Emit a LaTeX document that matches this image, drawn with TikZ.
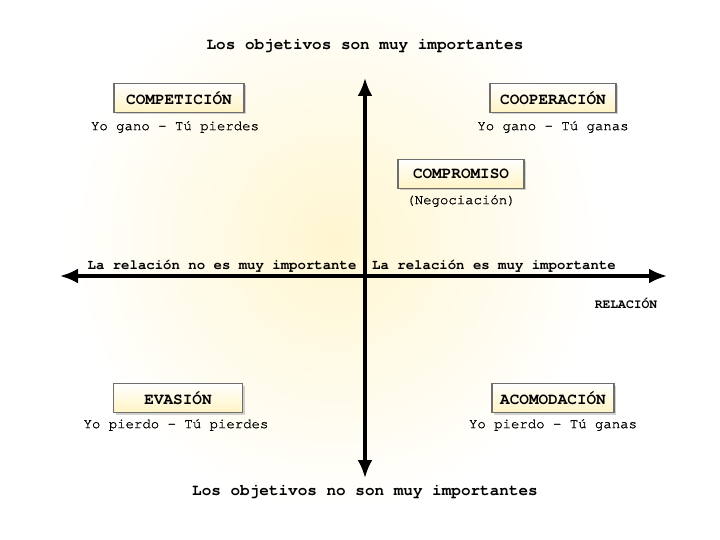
\documentclass[tikz,border=0pt]{standalone}
\usepackage{fontspec}
\setmainfont{TeX Gyre Cursor}
\newfontfamily\lemafont[FakeBold=1.2]{TeX Gyre Cursor}
\usetikzlibrary{arrows.meta,shadows}
\definecolor{glow}{RGB}{255,246,208}
\definecolor{boxbottom}{RGB}{255,244,196}
\definecolor{boxline}{RGB}{110,110,110}
\tikzset{
  estilo/.style={draw=boxline, line width=1.2pt, top color=white, bottom color=boxbottom,
    minimum width=126pt, minimum height=29pt, font=\bfseries\fontsize{16}{16}\selectfont,
    drop shadow={shadow xshift=2pt, shadow yshift=-2pt, opacity=0.35}},
  lema/.style={font=\lemafont\fontsize{14}{14}\selectfont},
  eje/.style={line width=3.2pt, -{Latex[length=18pt,width=15pt]}}
}
\begin{document}
\begin{tikzpicture}[x=1pt,y=1pt,yscale=-1,xscale=1]
\useasboundingbox (0,0) rectangle (720,540);
\fill[white] (0,0) rectangle (720,540);

% fondo
\shade[inner color=glow, outer color=white] (335,240) circle (270);

% Ejes
\coordinate (arriba) at (365,78);
\coordinate (abajo) at (365,478);
\coordinate (izq) at (60,276);
\coordinate (der) at (667,276);
\coordinate (centro) at (365,276);
\draw [eje] (centro) -- (arriba);
\draw [eje] (centro) -- (abajo);
\draw [eje] (centro) -- (izq);
\draw [eje] (centro) -- (der);

% Text Node
\node (tit) [font=\bfseries\fontsize{16}{16}\selectfont] at (365,46) {Los objetivos son muy importantes};
% Text Node
\node (pie) [font=\bfseries\fontsize{16}{16}\selectfont] at (365,492) {Los objetivos no son muy importantes};

% Estilos
\node (competicion) [estilo, minimum width=130pt] at (179,98) {COMPETICIÓN};
\node (competicionT) [lema] at (175,127) {Yo gano - Tú pierdes};

\node (cooperacion) [estilo] at (553,98) {COOPERACIÓN};
\node (cooperacionT) [lema] at (553,127) {Yo gano - Tú ganas};

\node (compromiso) [estilo] at (461,174) {COMPROMISO};
\node (compromisoT) [lema] at (461,201) {(Negociación)};

\node (evasion) [estilo, minimum width=129pt] at (178,398) {EVASIÓN};
\node (evasionT) [lema] at (176,425) {Yo pierdo - Tú pierdes};

\node (acomodacion) [estilo, minimum width=122pt] at (553,398) {ACOMODACIÓN};
\node (acomodacionT) [lema] at (553,425) {Yo pierdo - Tú ganas};

% Text Node
\node (relno) [font=\bfseries\fontsize{14}{14}\selectfont] at (222,266) {La relación no es muy importante};
% Text Node
\node (relsi) [font=\bfseries\fontsize{14}{14}\selectfont] at (494,266) {La relación es muy importante};
% Text Node
\node (relacion) [font=\bfseries\fontsize{13}{13}\selectfont] at (626,303) {RELACIÓN};

\end{tikzpicture}
\end{document}
